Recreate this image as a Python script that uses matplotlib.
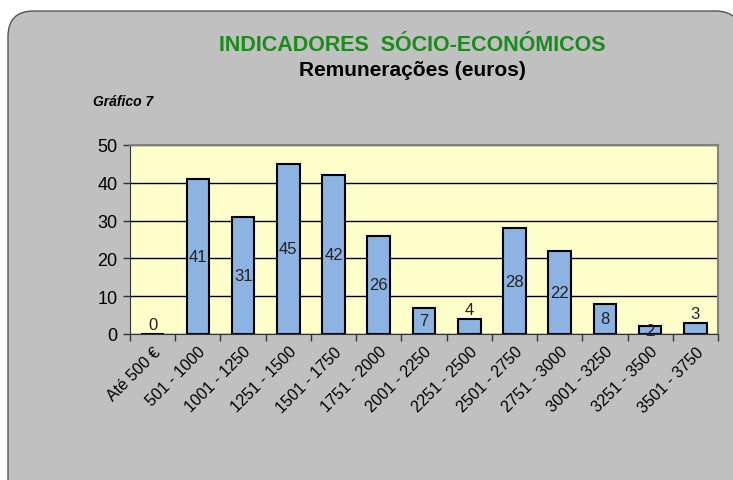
import matplotlib.pyplot as plt
from matplotlib.patches import FancyBboxPatch
from matplotlib.ticker import MultipleLocator

plt.rcParams['font.family'] = ['Liberation Sans', 'DejaVu Sans']

categories = ["Até 500 €", "501 - 1000", "1001 - 1250", "1251 - 1500",
              "1501 - 1750", "1751 - 2000", "2001 - 2250", "2251 - 2500",
              "2501 - 2750", "2751 - 3000", "3001 - 3250", "3251 - 3500",
              "3501 - 3750"]
values = [0, 41, 31, 45, 42, 26, 7, 4, 28, 22, 8, 2, 3]
# categories whose label sits above the bar instead of centred inside it
labels_above = {"Até 500 €", "2251 - 2500", "3501 - 3750"}

fig = plt.figure(figsize=(7.33, 4.81), dpi=100)
fig.patch.set_facecolor("white")

# rounded grey panel behind everything
panel = FancyBboxPatch((8 / 733, -0.1), 1.0, 1.1 - 12 / 481,
                       boxstyle="round,pad=0,rounding_size=0.035",
                       transform=fig.transFigure, facecolor="#C0C0C0",
                       edgecolor="#555555", linewidth=1.0, zorder=-10,
                       mutation_aspect=733 / 481)
fig.patches.append(panel)

fig.text(0.563, 0.906, "INDICADORES  SÓCIO-ECONÓMICOS", color="#1A8C1A",
         fontsize=15.5, fontweight="bold", ha="center", va="center")
fig.text(0.563, 0.853, "Remunerações (euros)", color="black",
         fontsize=15, fontweight="bold", ha="center", va="center")
fig.text(0.127, 0.787, "Gráfico 7", color="black", fontsize=10,
         fontweight="bold", fontstyle="italic", ha="left", va="center")

ax = fig.add_axes([130 / 733, 1 - 335 / 481, 588 / 733, 189 / 481])
ax.set_facecolor("#FFFFCC")

x = range(len(values))
ax.bar(x, values, width=0.5, color="#8DB3E2", edgecolor="black",
       linewidth=1.5, zorder=3)

for i, (cat, v) in enumerate(zip(categories, values)):
    if cat in labels_above:
        ax.text(i, v + 0.4, str(v), ha="center", va="bottom", fontsize=12,
                color="#222222", zorder=4)
    else:
        ax.text(i, v / 2, str(v), ha="center", va="center", fontsize=12,
                color="#222222", zorder=4)

ax.set_xlim(-0.5, len(values) - 0.5)
ax.set_ylim(0, 50)
ax.yaxis.set_major_locator(MultipleLocator(10))
ax.yaxis.grid(True, color="black", linewidth=1.0, zorder=1)
ax.set_axisbelow(True)

ax.set_xticks(list(x))
ax.set_xticklabels(categories, rotation=45, ha="right",
                   rotation_mode="anchor", fontsize=11.5)
ax.set_xticks([i - 0.5 for i in range(len(values) + 1)], minor=True)
ax.tick_params(axis="x", which="major", length=0, pad=7)
ax.tick_params(axis="x", which="minor", length=5, width=1.0,
               direction="out", color="#333333")
ax.tick_params(axis="y", length=5, width=1.0, direction="out",
               labelsize=13, pad=4, color="#333333")

for side in ("top", "right"):
    ax.spines[side].set_color("#808080")
    ax.spines[side].set_linewidth(1.5)
ax.spines["left"].set_color("#333333")
ax.spines["bottom"].set_color("#333333")

fig.savefig("out.png", dpi=100)
